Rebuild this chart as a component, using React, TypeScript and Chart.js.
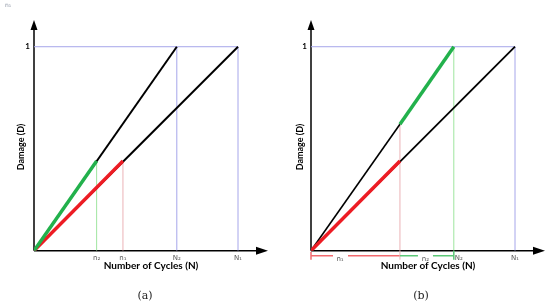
import React, { useEffect, useRef } from "react";
import { Chart, registerables } from "chart.js";
Chart.register(...registerables);

// Cycle values (N1 normalised to 100)
const failureCycles = [70, 100]; // N2, N1
const failureLabels = ["N₂", "N₁"];
const appliedCyclesA = [30.7, 43.6]; // n2, n1
const appliedLabelsA = ["n₂", "n₁"];
const damageAtAppliedA = [0.44, 0.44]; // D at n2 (line to N2), D at n1 (line to N1)
const appliedCyclesB = [43.6]; // n1
const appliedLabelsB = ["n₁", "n₂"];
const damageAtAppliedB = [0.44, 0.62]; // D at n1 on N1 line (red end), on N2 line (green start)
const damageFailure = 1;
const axisMax = { x: 114.7, y: 1.131 };

const BLUE = "#a6a6ea";
const GREEN_LIGHT = "#9fe59f";
const PINK = "#ebb2b6";
const GREEN = "#22b14c";
const RED = "#ed1c24";
const BLACK = "#000000";

const seg = (x0: number, y0: number, x1: number, y1: number) => [
  { x: x0, y: y0 },
  { x: x1, y: y1 },
];

const ds = (data: any, color: string, width: number, order: number) => ({
  data,
  borderColor: color,
  backgroundColor: color,
  borderWidth: width,
  showLine: true,
  pointRadius: 0,
  fill: false,
  order,
  borderCapStyle: "butt",
});

function datasetsA() {
  const [N2, N1] = failureCycles;
  const [n2, n1] = appliedCyclesA;
  const [d2, d1] = damageAtAppliedA;
  return [
    ds(seg(0, damageFailure, N1, damageFailure), BLUE, 1, 9),
    ds(seg(N2, 0, N2, damageFailure), BLUE, 1, 9),
    ds(seg(N1, 0, N1, damageFailure), BLUE, 1, 9),
    ds(seg(n2, 0, n2, d2), GREEN_LIGHT, 1, 9),
    ds(seg(n1, 0, n1, d1), PINK, 1, 9),
    ds(seg(0, 0, N2, damageFailure), BLACK, 2, 5),
    ds(seg(0, 0, N1, damageFailure), BLACK, 2, 5),
    ds(seg(0, 0, n2, d2), GREEN, 3.5, 1),
    ds(seg(0, 0, n1, d1), RED, 3.5, 1),
  ];
}

function datasetsB() {
  const [N2, N1] = failureCycles;
  const [n1] = appliedCyclesB;
  const [dr, dg] = damageAtAppliedB;
  return [
    ds(seg(0, damageFailure, N1, damageFailure), BLUE, 1, 9),
    ds(seg(N2, 0, N2, damageFailure), GREEN_LIGHT, 1, 9),
    ds(seg(N1, 0, N1, damageFailure), BLUE, 1, 9),
    ds(seg(n1, 0, n1, dg), PINK, 1, 9),
    ds(seg(0, 0, n1, dg), BLACK, 1.6, 5),
    ds(seg(0, 0, N1, damageFailure), BLACK, 1.8, 5),
    ds(seg(n1, dg, N2, damageFailure), GREEN, 3.5, 1),
    ds(seg(0, 0, n1, dr), RED, 3.5, 1),
  ];
}

function makeDecor(panel: "a" | "b") {
  return {
    id: "decor" + panel,
    beforeDatasetsDraw(chart: any) {
      const ctx = chart.ctx;
      const xs = chart.scales.x;
      const ys = chart.scales.y;
      const ca = chart.chartArea;
      const ox = xs.getPixelForValue(0);
      const oy = ys.getPixelForValue(0);
      ctx.save();
      ctx.strokeStyle = "#000";
      ctx.fillStyle = "#000";
      ctx.lineWidth = 1.5;
      // y axis
      ctx.beginPath();
      ctx.moveTo(ox, oy);
      ctx.lineTo(ox, ca.top + 8);
      ctx.stroke();
      ctx.beginPath();
      ctx.moveTo(ox, ca.top);
      ctx.lineTo(ox - 3.5, ca.top + 10);
      ctx.lineTo(ox + 3.5, ca.top + 10);
      ctx.closePath();
      ctx.fill();
      // x axis
      ctx.beginPath();
      ctx.moveTo(ox, oy);
      ctx.lineTo(ca.right - 8, oy);
      ctx.stroke();
      ctx.beginPath();
      ctx.moveTo(ca.right, oy);
      ctx.lineTo(ca.right - 12, oy - 4);
      ctx.lineTo(ca.right - 12, oy + 4);
      ctx.closePath();
      ctx.fill();
      ctx.restore();
    },
    afterDraw(chart: any) {
      const ctx = chart.ctx;
      const xs = chart.scales.x;
      const ys = chart.scales.y;
      const ox = xs.getPixelForValue(0);
      const oy = ys.getPixelForValue(0);
      const [N2, N1] = failureCycles;
      ctx.save();
      // "1" tick
      ctx.fillStyle = "#000";
      ctx.font = "bold 8px Lato";
      ctx.textAlign = "right";
      ctx.textBaseline = "middle";
      ctx.fillText("1", ox - 4, ys.getPixelForValue(damageFailure));
      // Damage label
      ctx.save();
      ctx.translate(panel === "a" ? 21 : 25, 147);
      ctx.rotate(-Math.PI / 2);
      ctx.textAlign = "center";
      ctx.font = "bold 9px Lato";
      ctx.fillText("Damage (D)", 0, 0);
      ctx.restore();
      // x title
      ctx.textAlign = "center";
      ctx.font = "bold 10px Lato";
      ctx.fillText("Number of Cycles (N)", panel === "a" ? 151 : 153, 266);
      // caption
      ctx.fillStyle = "#222";
      ctx.font = "11px 'DejaVu Serif'";
      ctx.fillText(panel === "a" ? "(a)" : "(b)", panel === "a" ? 145 : 146, 296);
      // tick labels
      ctx.fillStyle = "#555";
      ctx.font = "7px 'DejaVu Sans'";
      ctx.textBaseline = "middle";
      const ty = oy + 7;
      if (panel === "a") {
        appliedCyclesA.forEach((v, i) => ctx.fillText(appliedLabelsA[i], xs.getPixelForValue(v), ty));
        failureCycles.forEach((v, i) => ctx.fillText(failureLabels[i], xs.getPixelForValue(v), ty));
        ctx.fillStyle = "#8890a0";
        ctx.font = "6px 'DejaVu Sans'";
        ctx.fillText("n₁", 8, 5);
      } else {
        const x0 = ox;
        const x1 = xs.getPixelForValue(appliedCyclesB[0]);
        const x2 = xs.getPixelForValue(N2);
        const by = oy + 5;
        ctx.lineWidth = 1.5;
        // red bracket
        ctx.strokeStyle = "#f26a6e";
        ctx.beginPath();
        ctx.moveTo(x0, oy + 1);
        ctx.lineTo(x0, oy + 9);
        ctx.moveTo(x0, by);
        ctx.lineTo(x0 + 22, by);
        ctx.moveTo(x0 + 37, by);
        ctx.lineTo(x1, by);
        ctx.stroke();
        ctx.strokeStyle = PINK;
        ctx.lineWidth = 1;
        ctx.beginPath();
        ctx.moveTo(x1, oy);
        ctx.lineTo(x1, oy + 9);
        ctx.stroke();
        // green bracket
        ctx.strokeStyle = "#5cc878";
        ctx.lineWidth = 1.5;
        ctx.beginPath();
        ctx.moveTo(x1, by);
        ctx.lineTo(x1 + 18, by);
        ctx.moveTo(x1 + 33, by);
        ctx.lineTo(x2, by);
        ctx.moveTo(x2, oy);
        ctx.lineTo(x2, oy + 9);
        ctx.stroke();
        ctx.fillStyle = "#555";
        ctx.fillText(appliedLabelsB[0], x0 + 29, oy + 8);
        ctx.fillText(appliedLabelsB[1], x1 + 25.5, oy + 8);
        ctx.fillText(failureLabels[0], x2 + 5, ty);
        ctx.fillText(failureLabels[1], xs.getPixelForValue(N1), ty);
      }
      ctx.restore();
    },
  };
}

function Panel({ panel }: { panel: "a" | "b" }) {
  const ref = useRef<HTMLCanvasElement>(null);
  useEffect(() => {
    if (!ref.current) return;
    const chart = new Chart(ref.current, {
      type: "scatter",
      data: { datasets: (panel === "a" ? datasetsA() : datasetsB()) as any },
      options: {
        animation: false,
        responsive: false,
        devicePixelRatio: 1,
        layout: {
          padding: { left: panel === "a" ? 34 : 36, right: panel === "a" ? 7 : 5, top: 20, bottom: 55.3 },
        },
        plugins: { legend: { display: false }, tooltip: { enabled: false } },
        scales: {
          x: { type: "linear", min: 0, max: axisMax.x, display: false },
          y: { type: "linear", min: 0, max: axisMax.y, display: false },
        },
      },
      plugins: [makeDecor(panel)],
    } as any);
    return () => chart.destroy();
  }, [panel]);
  return <canvas ref={ref} width={275} height={306} style={{ width: 275, height: 306, display: "block" }} />;
}

export default function App() {
  return (
    <div style={{ position: "absolute", left: 0, top: 0, width: 550, height: 306, background: "#fff", display: "flex" }}>
      <Panel panel="a" />
      <Panel panel="b" />
    </div>
  );
}
